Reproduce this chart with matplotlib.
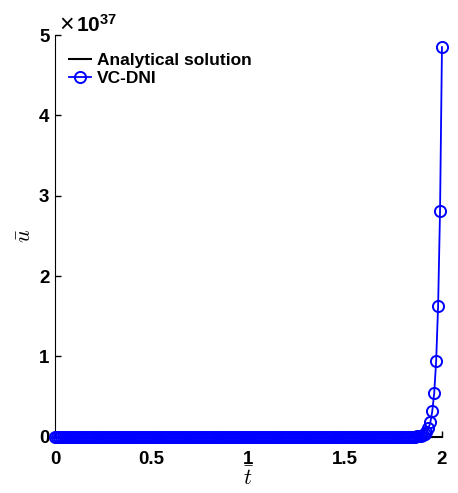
import numpy as np
import matplotlib
matplotlib.use("Agg")
import matplotlib.pyplot as plt
import matplotlib.ticker as ticker

plt.rcParams["font.family"] = "Liberation Sans"
plt.rcParams["font.weight"] = "bold"
plt.rcParams["mathtext.fontset"] = "custom"
plt.rcParams["mathtext.rm"] = "Liberation Sans"
plt.rcParams["mathtext.bf"] = "Liberation Sans:bold"

# time grid (step 0.01 from 0 to 2)
t = np.round(np.arange(0, 201) * 0.01, 2)

# VC-DNI values near the blow-up (t = 1.86 ... 2.00), in units of 1e37
tail_vals = [0.002, 0.004, 0.007, 0.012, 0.02, 0.035, 0.06, 0.105,
             0.18, 0.32, 0.547, 0.945, 1.63, 2.81, 4.85]
u_dni = np.concatenate([np.zeros(len(t) - len(tail_vals)), tail_vals]) * 1e37
u_exact = np.zeros(len(t))

fig = plt.figure(figsize=(4.58, 4.93), dpi=100)
ax = fig.add_axes([0.12, 0.114, 0.845, 0.815])

ax.plot(t, u_exact, "k-", lw=1.5, label="Analytical solution")
ax.plot(t, u_dni, "-o", color="blue", lw=1.3, ms=8, mfc="none", mew=1.4,
        label="VC-DNI", clip_on=False, zorder=3)

ax.set_xlim(0, 2)
ax.set_ylim(0, 5e37)
ax.set_xticks([0, 0.5, 1, 1.5, 2])
ax.set_xticklabels(["0", "0.5", "1", "1.5", "2"])
ax.yaxis.set_major_locator(ticker.MultipleLocator(1e37))
ax.yaxis.set_major_formatter(ticker.FuncFormatter(lambda v, p: "%g" % (v / 1e37)))
ax.tick_params(direction="in", labelsize=13.5, length=4, width=1)
ax.tick_params(axis="x", pad=10)
ax.tick_params(axis="y", pad=4)
ax.spines["top"].set_visible(False)
ax.spines["right"].set_visible(False)

# multiplier above the y axis
ax.text(0.01, 1.008, "\u00d7", transform=ax.transAxes,
        fontsize=18, ha="left", va="baseline", fontweight="light")
ax.text(0.055, 1.008, r"$\mathbf{10^{37}}$", transform=ax.transAxes,
        fontsize=15, ha="left", va="baseline")

ax.set_xlabel(r"$\bar{t}$", fontsize=16, math_fontfamily="cm", labelpad=0)
ax.set_ylabel(r"$\bar{u}$", fontsize=16, math_fontfamily="cm", labelpad=2)

ax.legend(loc="upper left", frameon=False, fontsize=12.5, handlelength=1.3,
          handletextpad=0.3, borderaxespad=0.4, labelspacing=0.15,
          bbox_to_anchor=(0.0, 0.99))

fig.savefig("out.png", dpi=100)
